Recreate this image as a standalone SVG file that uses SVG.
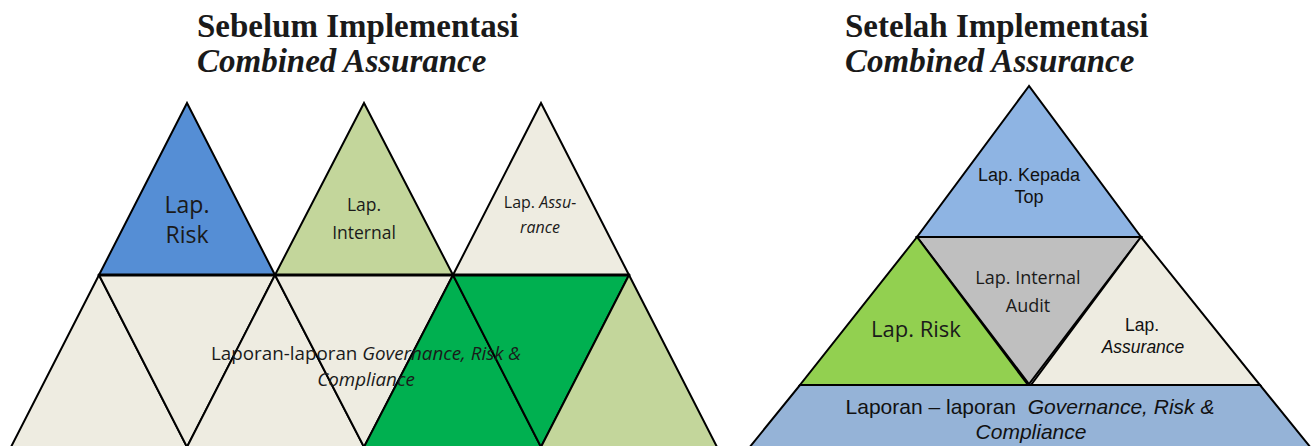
<svg xmlns="http://www.w3.org/2000/svg" width="1312" height="446" viewBox="0 0 1312 446">
<style>
.tri{stroke:#000;stroke-width:2;stroke-linejoin:miter}
.beige{fill:#EEECE1}
.blue{fill:#558ED5}
.lgreen{fill:#C3D69B}
.green{fill:#00B050}
.title{font-family:"Liberation Serif","Times New Roman",serif;font-weight:bold;font-size:33px;fill:#1a1a1a}
.os{font-family:"Open Sans","DejaVu Sans",sans-serif;fill:#1a1a1a;text-anchor:middle}
.ar{font-family:"Liberation Sans",Arial,sans-serif;fill:#111;text-anchor:middle}
.it{font-style:italic}
</style>
<rect width="1312" height="446" fill="#fff"/>
<g id="titles">
<text class="title" x="197" y="37">Sebelum Implementasi</text>
<text class="title it" x="197" y="72">Combined Assurance</text>
<text class="title" x="845" y="37">Setelah Implementasi</text>
<text class="title it" x="845" y="72">Combined Assurance</text>
</g>
<g id="before">
<g id="lap-risk-top"><polygon class="tri blue" points="187,103 99,275 275,275"/>
<text class="os" x="187" y="213" font-size="23">Lap.</text><text class="os" x="187" y="243" font-size="23">Risk</text></g>
<g id="lap-internal-top"><polygon class="tri lgreen" points="364,103 275,275 453,275"/>
<text class="os" x="364" y="211" font-size="17.5">Lap.</text><text class="os" x="364" y="239" font-size="17.5">Internal</text></g>
<g id="lap-assurance-top"><polygon class="tri beige" points="541,103 453,275 629,275"/>
<text class="os" x="540" y="208" font-size="16">Lap. <tspan class="it">Assu-</tspan></text><text class="os it" x="540" y="233" font-size="16">rance</text></g>
<g id="grc-base">
<polygon class="tri beige" points="99,275 11,447 187,447"/>
<polygon class="tri beige" points="99,275 275,275 187,447" stroke-width="3"/>
<polygon class="tri beige" points="275,275 187,447 364,447"/>
<polygon class="tri beige" points="275,275 453,275 364,447"/>
<polygon class="tri green" points="453,275 364,447 541,447"/>
<polygon class="tri green" points="453,275 629,275 541,447" stroke-width="3"/>
<polygon class="tri lgreen" points="629,275 541,447 717,447"/>
<line x1="99" y1="275" x2="629" y2="275" stroke="#000" stroke-width="3"/>
<text class="os" x="366" y="360" font-size="18.8">Laporan-laporan <tspan class="it">Governance, Risk &amp;</tspan></text>
<text class="os it" x="366" y="386" font-size="18.8">Compliance</text>
</g>
</g>
<g id="after">
<g id="lap-top"><polygon class="tri" fill="#8EB4E3" points="1029,86 917,237 1141,237"/>
<text class="ar" x="1029" y="181" font-size="18">Lap. Kepada</text><text class="ar" x="1029" y="203" font-size="18">Top</text></g>
<g id="lap-internal-audit"><polygon class="tri" fill="#BFBFBF" points="917,237 1141,237 1029,384" stroke-width="2.5"/>
<text class="os" x="1028" y="284" font-size="18">Lap. Internal</text><text class="os" x="1028" y="312" font-size="18">Audit</text></g>
<g id="lap-risk"><polygon class="tri" fill="#92D050" points="917,237 800,385 1028,385"/>
<text class="os" x="916" y="337" font-size="22">Lap. Risk</text></g>
<g id="lap-assurance"><polygon class="tri beige" points="1141,237 1031,385 1260,385"/>
<text class="ar" x="1142" y="331" font-size="17.5">Lap.</text><text class="ar it" x="1143" y="353" font-size="17.5">Assurance</text></g>
<g id="grc"><polygon class="tri" fill="#95B3D7" points="800,385 1260,385 1311,448 749,448"/>
<text class="ar" x="1030" y="414" font-size="21" xml:space="preserve">Laporan – laporan  <tspan class="it">Governance, Risk &amp;</tspan></text>
<text class="ar it" x="1031" y="439" font-size="21">Compliance</text></g>
</g>
<g id="connectors"/>
</svg>
